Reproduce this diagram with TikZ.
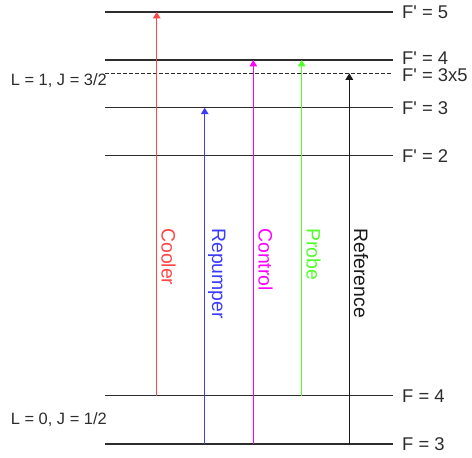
\documentclass[tikz,border=0pt]{standalone}
\usepackage{fontspec}
\setmainfont{Liberation Sans}[Ligatures=TeXOff]
\usetikzlibrary{arrows.meta}
\definecolor{lvl}{RGB}{45,45,45}
\definecolor{cred}{RGB}{255,70,70}
\definecolor{cblue}{RGB}{60,60,255}
\definecolor{cmag}{RGB}{255,0,255}
\definecolor{cgreen}{RGB}{80,255,40}
\definecolor{cblk}{RGB}{25,25,25}
\begin{document}
\begin{tikzpicture}[x=1bp,y=-1bp,
  level/.style={draw=lvl,line width=1.5bp},
  dlevel/.style={draw=lvl,line width=1.5bp,dash pattern=on 3.5bp off 2.5bp},
  rlab/.style={anchor=west,inner sep=0pt,font=\fontsize{18.5}{20}\selectfont,text=lvl,text depth=0pt},
  llab/.style={anchor=east,inner sep=0pt,font=\fontsize{16.5}{19}\selectfont,text=lvl},
  arr/.style={line width=1.5bp,-{Triangle[width=7.5bp,length=6.5bp]}},
  vlab/.style={rotate=-90,anchor=base west,inner sep=0pt,font=\fontsize{19.5}{22}\selectfont}]
\useasboundingbox (0,0) rectangle (472,458);
% level end points
\coordinate (e5a) at (105,12);    \coordinate (e5b) at (393,12);
\coordinate (e4a) at (105,60);    \coordinate (e4b) at (393,60);
\coordinate (exa) at (105,73.3);  \coordinate (exb) at (393,73.3);
\coordinate (e3a) at (105,107.7); \coordinate (e3b) at (393,107.7);
\coordinate (e2a) at (105,155.7); \coordinate (e2b) at (393,155.7);
\coordinate (g4a) at (105,395.7); \coordinate (g4b) at (393,395.7);
\coordinate (g3a) at (105,444);   \coordinate (g3b) at (393,444);
% levels
\draw[level] (e5a) -- (e5b);
\draw[level] (e4a) -- (e4b);
\draw[dlevel] (exa) -- (exb);
\draw[level] (e3a) -- (e3b);
\draw[level] (e2a) -- (e2b);
\draw[level] (g4a) -- (g4b);
\draw[level] (g3a) -- (g3b);
% level labels
\node[rlab] (t5) at ([xshift=9bp]e5b) {F' = 5};
\node[rlab] (t4) at ([xshift=9bp,yshift=1.5bp]e4b) {F' = 4};
\node[rlab] (tx) at ([xshift=9bp,yshift=-1.5bp]exb) {F' = 3x5};
\node[rlab] (t3) at ([xshift=9bp]e3b) {F' = 3};
\node[rlab] (t2) at ([xshift=9bp]e2b) {F' = 2};
\node[rlab] (u4) at ([xshift=9bp]g4b) {F = 4};
\node[rlab] (u3) at ([xshift=9bp]g3b) {F = 3};
\node[llab] (lu) at (107,81) {L = 1, J = 3/2};
\node[llab] (ll) at (107,419.5) {L = 0, J = 1/2};
% transition x positions
\coordinate (xc) at (156.7,0);
\coordinate (xr) at (204.7,0);
\coordinate (xo) at (253.3,0);
\coordinate (xp) at (301.7,0);
\coordinate (xf) at (349.3,0);
% arrows
\draw[arr,cred]   (xc |- g4a) -- (xc |- e5a);
\draw[arr,cblue]  (xr |- g3a) -- (xr |- e3a);
\draw[arr,cmag]   (xo |- g3a) -- (xo |- e4a);
\draw[arr,cgreen] (xp |- g4a) -- (xp |- e4a);
\draw[arr,cblk]   (xf |- g3a) -- (xf |- exa);
% arrow labels
\node[vlab,text=cred]   (lc) at (161.5,228) {Cooler};
\node[vlab,text=cblue]  (lr) at (212,228) {Repumper};
\node[vlab,text=cmag]   (lo) at (258.5,228) {Control};
\node[vlab,text=cgreen] (lp) at (306.5,228) {Probe};
\node[vlab,text=cblk]   (lf) at (354,228) {Reference};
\end{tikzpicture}
\end{document}
